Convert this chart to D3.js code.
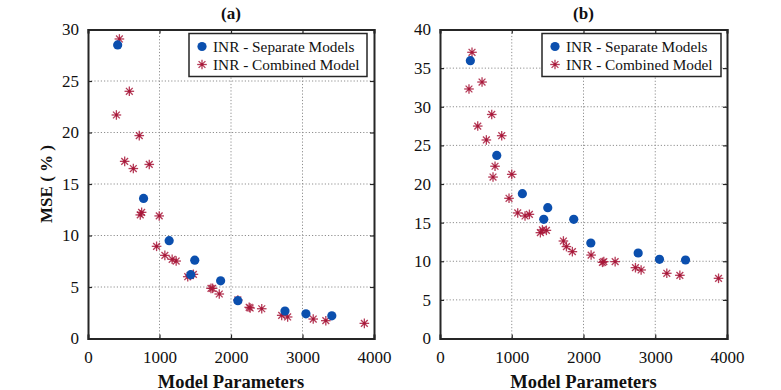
<!DOCTYPE html>
<html>
<head>
<meta charset="utf-8">
<script src="https://cdn.jsdelivr.net/npm/d3@7"></script>
<style>
  body { margin: 0; background: #fff; }
  svg text { font-family: "Liberation Serif", "Times New Roman", serif; fill: #111; }
</style>
</head>
<body>
<div id="chart"></div>
<script>
// panel (a)
const sepParamsA = [415, 777, 1135, 1437, 1493, 1855, 2096, 2755, 3048, 3410];
const sepMseA = [28.5, 13.6, 9.5, 6.2, 7.6, 5.6, 3.67, 2.67, 2.4, 2.2];
const combParamsA = [439, 578, 397, 717, 513, 857, 634, 750, 731, 996, 959, 1075, 1177, 1233,
  1395, 1428, 1474, 1720, 1743, 1836, 2096, 2254, 2268, 2430, 2709, 2792, 3150, 3326, 3865];
const combMseA = [29.08, 24.0, 21.7, 19.7, 17.2, 16.9, 16.5, 12.25, 12.0, 11.9, 8.95, 8.07, 7.69, 7.52,
  6.0, 6.13, 6.23, 4.87, 4.87, 4.32, 3.74, 3.03, 2.96, 2.89, 2.25, 2.09, 1.89, 1.73, 1.47];

// panel (b)
const sepParamsB = [423, 791, 1148, 1446, 1502, 1864, 2102, 2762, 3059, 3422];
const sepMseB = [35.96, 23.7, 18.75, 15.43, 16.93, 15.43, 12.36, 11.07, 10.25, 10.16];
const combParamsB = [446, 586, 404, 721, 526, 860, 646, 767, 739, 1000, 962, 1083, 1185, 1246,
  1399, 1427, 1483, 1720, 1762, 1845, 2106, 2264, 2283, 2441, 2724, 2803, 3161, 3343, 3882];
const combMseB = [37.05, 33.2, 32.3, 29.0, 27.5, 26.25, 25.7, 22.3, 20.9, 21.25, 18.15, 16.25, 15.86, 16.07,
  13.7, 14.05, 14.0, 12.62, 11.9, 11.24, 10.8, 9.86, 9.95, 9.95, 9.17, 8.87, 8.44, 8.18, 7.79];

const xTicks = [0, 1000, 2000, 3000, 4000];
const yTicksA = [0, 5, 10, 15, 20, 25, 30];
const yTicksB = [0, 5, 10, 15, 20, 25, 30, 35, 40];
const legendLabels = ['INR - Separate Models', 'INR - Combined Model'];

const blue = '#0b4fae';
const red = '#a8183a';
const serif = '"Liberation Serif", "Times New Roman", serif';

const svg = d3.select('#chart').append('svg')
  .attr('width', 781)
  .attr('height', 390)
  .attr('font-family', serif);

function zip (xs, ys) {
  return xs.map((x, i) => ({ x: x, y: ys[i] }));
}

function drawStar (g, cx, cy, r) {
  const s = g.append('g')
    .attr('transform', `translate(${cx}, ${cy})`)
    .attr('stroke', red)
    .attr('stroke-width', 1.3)
    .attr('stroke-opacity', 0.85);
  const d = r * Math.SQRT1_2;
  s.append('line').attr('x1', -r).attr('x2', r).attr('y1', 0).attr('y2', 0);
  s.append('line').attr('x1', 0).attr('x2', 0).attr('y1', -r).attr('y2', r);
  s.append('line').attr('x1', -d).attr('x2', d).attr('y1', -d).attr('y2', d);
  s.append('line').attr('x1', -d).attr('x2', d).attr('y1', d).attr('y2', -d);
  s.append('circle').attr('r', 1.4).attr('fill', red).attr('stroke', 'none');
}

function drawPanel (cfg) {
  const w = cfg.width;
  const h = cfg.height;
  const g = svg.append('g').attr('transform', `translate(${cfg.left}, ${cfg.top})`);

  const x = d3.scaleLinear().domain([0, 4000]).range([0, w]);
  const y = d3.scaleLinear().domain([0, cfg.yMax]).range([h, 0]);

  // grid
  g.append('g').selectAll('line')
    .data(xTicks.slice(1, -1))
    .join('line')
    .attr('x1', d => x(d)).attr('x2', d => x(d))
    .attr('y1', 0).attr('y2', h)
    .attr('stroke', '#8f8f8f').attr('stroke-width', 1)
    .attr('stroke-dasharray', '1.2,2');
  g.append('g').selectAll('line')
    .data(cfg.yTicks.slice(1, -1))
    .join('line')
    .attr('y1', d => y(d)).attr('y2', d => y(d))
    .attr('x1', 0).attr('x2', w)
    .attr('stroke', '#8f8f8f').attr('stroke-width', 1)
    .attr('stroke-dasharray', '1.2,2');

  // axes (ticks inward, box style)
  const xAxis = g.append('g')
    .attr('transform', `translate(0, ${h})`)
    .call(d3.axisBottom(x).tickValues(xTicks).tickSize(-4).tickPadding(12).tickFormat(d3.format('d')));
  const yAxis = g.append('g')
    .call(d3.axisLeft(y).tickValues(cfg.yTicks).tickSize(-4).tickPadding(9));
  g.append('g')
    .call(d3.axisTop(x).tickValues(xTicks).tickSize(-4).tickFormat(''));
  g.append('g')
    .attr('transform', `translate(${w}, 0)`)
    .call(d3.axisRight(y).tickValues(cfg.yTicks).tickSize(-4).tickFormat(''));

  g.selectAll('.domain').attr('stroke', '#262626').attr('stroke-width', 2);
  g.selectAll('.tick line').attr('stroke', '#262626').attr('stroke-width', 1.2);
  [xAxis, yAxis].forEach(a => {
    a.attr('font-family', serif).attr('font-size', 17);
    a.selectAll('text').attr('fill', '#111');
  });

  // points
  const sep = zip(cfg.sepX, cfg.sepY);
  const comb = zip(cfg.combX, cfg.combY);
  const marks = g.append('g');
  comb.forEach(d => drawStar(marks, x(d.x), y(d.y), 4.8));
  marks.selectAll('circle.sep')
    .data(sep)
    .join('circle')
    .attr('class', 'sep')
    .attr('cx', d => x(d.x))
    .attr('cy', d => y(d.y))
    .attr('r', 4.6)
    .attr('fill', blue);

  // title
  g.append('text')
    .attr('x', w / 2)
    .attr('y', -11)
    .attr('text-anchor', 'middle')
    .attr('font-size', '17px')
    .attr('font-weight', 'bold')
    .text(cfg.title);

  // x label
  g.append('text')
    .attr('x', w / 2)
    .attr('y', h + 49)
    .attr('text-anchor', 'middle')
    .attr('font-size', '18.5px')
    .attr('font-weight', 'bold')
    .text('Model Parameters');

  // legend
  const lg = g.append('g').attr('transform', `translate(${cfg.legendX}, 4)`);
  lg.append('rect')
    .attr('width', cfg.legendW)
    .attr('height', 43)
    .attr('fill', '#fff')
    .attr('stroke', '#262626')
    .attr('stroke-width', 1.5);
  lg.append('circle').attr('cx', 13).attr('cy', 13).attr('r', 4.6).attr('fill', blue);
  drawStar(lg, 13, 31, 4.8);
  lg.selectAll('text.leg')
    .data(legendLabels)
    .join('text')
    .attr('class', 'leg')
    .attr('x', 24)
    .attr('y', (d, i) => 18 + i * 18)
    .attr('font-size', '15.3px')
    .text(d => d);
}

drawPanel({
  left: 88, top: 29.5, width: 286, height: 309, yMax: 30, yTicks: yTicksA, title: '(a)',
  sepX: sepParamsA, sepY: sepMseA, combX: combParamsA, combY: combMseA,
  legendX: 101, legendW: 178
});
drawPanel({
  left: 440, top: 29.5, width: 287, height: 309, yMax: 40, yTicks: yTicksB, title: '(b)',
  sepX: sepParamsB, sepY: sepMseB, combX: combParamsB, combY: combMseB,
  legendX: 102, legendW: 179
});

// y label (only on left panel)
svg.append('text')
  .attr('transform', 'translate(52, 184) rotate(-90)')
  .attr('text-anchor', 'middle')
  .attr('font-size', '17px')
  .attr('font-weight', 'bold')
  .text('MSE ( % )');
</script>
</body>
</html>
